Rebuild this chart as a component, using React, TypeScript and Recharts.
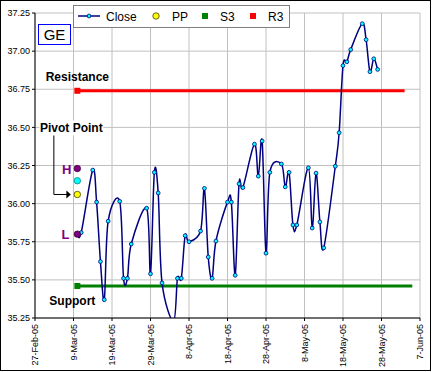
import React from 'react';
import { LineChart, Line, XAxis, YAxis, CartesianGrid, Legend } from 'recharts';

const FONT = '"Liberation Sans", Arial, sans-serif';

// daily closes
const dates = [
  '10-Mar-05', '11-Mar-05', '14-Mar-05', '15-Mar-05', '16-Mar-05', '17-Mar-05', '18-Mar-05',
  '21-Mar-05', '22-Mar-05', '23-Mar-05', '24-Mar-05', '28-Mar-05', '29-Mar-05', '30-Mar-05',
  '31-Mar-05', '1-Apr-05', '4-Apr-05', '5-Apr-05', '6-Apr-05', '7-Apr-05', '8-Apr-05',
  '11-Apr-05', '12-Apr-05', '13-Apr-05', '14-Apr-05', '15-Apr-05', '18-Apr-05', '19-Apr-05',
  '20-Apr-05', '21-Apr-05', '22-Apr-05', '25-Apr-05', '26-Apr-05', '27-Apr-05', '28-Apr-05',
  '29-Apr-05', '2-May-05', '3-May-05', '4-May-05', '5-May-05', '6-May-05', '9-May-05',
  '10-May-05', '11-May-05', '12-May-05', '13-May-05', '16-May-05', '17-May-05', '18-May-05',
  '19-May-05', '20-May-05', '23-May-05', '24-May-05', '25-May-05', '26-May-05', '27-May-05',
];
const closes = [
  35.8, 35.81, 36.22, 36.01, 35.62, 35.37, 35.885,
  36.015, 35.51, 35.51, 35.735, 35.97, 35.54, 36.205,
  36.07, 35.48, 35.23, 35.51, 35.51, 35.79, 35.75,
  35.82, 36.1, 35.65, 35.51, 35.755, 36.01, 36.01,
  35.53, 36.13, 36.105, 36.39, 36.18, 36.41, 35.675,
  36.205, 36.26, 36.11, 36.205, 35.86, 35.86, 36.235,
  35.84, 36.2, 35.88, 35.71, 36.245, 36.465, 36.905,
  36.93, 37.01, 37.18, 37.075, 36.865, 36.95, 36.88,
];

// pivot levels, all marked on the first day
const pivotDate = '10-Mar-05';
const high = 36.23;
const prevClose = 36.15;
const pivot = 36.06;
const low = 35.8;
const r3 = 36.74;
const r3End = '3-Jun-05';
const s3 = 35.46;
const s3End = '5-Jun-05';

const tickDates = [
  '27-Feb-05', '9-Mar-05', '19-Mar-05', '29-Mar-05', '8-Apr-05', '18-Apr-05',
  '28-Apr-05', '8-May-05', '18-May-05', '28-May-05', '7-Jun-05',
];
const yTicks = [35.25, 35.5, 35.75, 36, 36.25, 36.5, 36.75, 37, 37.25];

const MONTHS = ['Jan', 'Feb', 'Mar', 'Apr', 'May', 'Jun', 'Jul', 'Aug', 'Sep', 'Oct', 'Nov', 'Dec'];
const toDay = (s: string) => {
  const [d, m, y] = s.split('-');
  return (Date.UTC(2000 + Number(y), MONTHS.indexOf(m), Number(d)) - Date.UTC(2005, 1, 27)) / 86400000;
};
const tickDays = tickDates.map(toDay);
const pivotDay = toDay(pivotDate);

const rows = new Map<number, any>();
const row = (s: string) => {
  const day = toDay(s);
  if (!rows.has(day)) rows.set(day, { day });
  return rows.get(day);
};
dates.forEach((d, i) => { row(d).close = closes[i]; });
Object.assign(row(pivotDate), { high, prevClose, pivot, low, r3, s3 });
row(r3End).r3 = r3;
row(s3End).s3 = s3;
const data = [...rows.values()].sort((a, b) => a.day - b.day);

// Excel-like smoothed line (Catmull-Rom through every point)
const smooth = (context: any) => {
  let pts: number[][] = [];
  return {
    areaStart() {},
    areaEnd() {},
    lineStart() { pts = []; },
    lineEnd() {
      if (!pts.length) return;
      context.moveTo(pts[0][0], pts[0][1]);
      for (let i = 0; i < pts.length - 1; i++) {
        const p0 = pts[Math.max(i - 1, 0)];
        const p1 = pts[i];
        const p2 = pts[i + 1];
        const p3 = pts[Math.min(i + 2, pts.length - 1)];
        context.bezierCurveTo(
          p1[0] + (p2[0] - p0[0]) / 6, p1[1] + (p2[1] - p0[1]) / 6,
          p2[0] - (p3[0] - p1[0]) / 6, p2[1] - (p3[1] - p1[1]) / 6,
          p2[0], p2[1],
        );
      }
    },
    point(x: number, y: number) { pts.push([+x, +y]); },
  };
};

const empty = (p: any) => <g key={p.key} />;

const closeDot = (p: any) =>
  p.payload.close == null ? empty(p) : (
    <circle key={p.key} cx={p.cx} cy={p.cy} r={1.9} fill="#00ffff" stroke="#000080" strokeWidth={0.8} />
  );

const circleDot = (key: string, fill: string, stroke: string) => (p: any) =>
  p.payload[key] == null ? empty(p) : (
    <circle key={p.key} cx={p.cx} cy={p.cy} r={3.2} fill={fill} stroke={stroke} strokeWidth={0.8} />
  );

const letterDot = (key: string, letter: string, dx: number) => (p: any) =>
  p.payload[key] == null ? empty(p) : (
    <g key={p.key}>
      <circle cx={p.cx} cy={p.cy} r={3.2} fill="#800080" stroke="#400040" strokeWidth={0.8} />
      <text x={p.cx - dx} y={p.cy + 5} textAnchor="end" fontSize={13} fontWeight="bold" fill="#800080" fontFamily={FONT}>
        {letter}
      </text>
    </g>
  );

const pivotDotShape = (p: any) => {
  if (p.payload.pivot == null) return empty(p);
  const { cx, cy } = p;
  return (
    <g key={p.key}>
      <rect x={cx - 38} y={cy - 74} width={64} height={15} fill="#fff" />
      <text x={cx - 6} y={cy - 62} textAnchor="middle" fontSize={12} fontWeight="bold" fill="#000" fontFamily={FONT}>
        Pivot Point
      </text>
      <polyline points={`${cx - 23.5},${cy - 59} ${cx - 23.5},${cy} ${cx - 10},${cy}`} fill="none" stroke="#000" strokeWidth={1} />
      <polygon points={`${cx - 11},${cy - 4} ${cx - 6.5},${cy} ${cx - 11},${cy + 4}`} fill="#000" />
      <circle cx={cx} cy={cy} r={3.2} fill="#ffff00" stroke="#404000" strokeWidth={0.8} />
    </g>
  );
};

const levelDot = (key: string, color: string, label: string, dx: number, dy: number) => (p: any) =>
  p.payload.day !== pivotDay || p.payload[key] == null ? empty(p) : (
    <g key={p.key}>
      <rect x={p.cx - 3} y={p.cy - 3} width={6} height={6} fill={color} />
      <text x={p.cx + dx} y={p.cy + dy} textAnchor="middle" fontSize={12} fontWeight="bold" fill="#000" fontFamily={FONT}>
        {label}
      </text>
    </g>
  );

const DateTick = (props: any) => {
  const { x, y, payload } = props;
  const label = tickDates[tickDays.indexOf(payload.value)] ?? '';
  return (
    <text transform={`translate(${x},${y}) rotate(-90)`} textAnchor="end" dy="0.35em" fontSize={9} fill="#000" fontFamily={FONT}>
      {label}
    </text>
  );
};

const LegendBox = () => (
  <svg width={217} height={23} style={{ display: 'block' }}>
    <rect x={0.5} y={0.5} width={216} height={22} fill="#fff" stroke="#808080" />
    <line x1={5} x2={27} y1={11} y2={11} stroke="#000080" strokeWidth={1.5} />
    <circle cx={16} cy={11} r={1.9} fill="#00ffff" stroke="#000080" strokeWidth={0.8} />
    <text x={33} y={15.5} fontSize={12} fill="#000" fontFamily={FONT}>Close</text>
    <circle cx={83} cy={11} r={3.2} fill="#ffff00" stroke="#404000" strokeWidth={0.8} />
    <text x={99} y={15.5} fontSize={12} fill="#000" fontFamily={FONT}>PP</text>
    <rect x={129} y={8} width={6} height={6} fill="#008000" />
    <text x={147} y={15.5} fontSize={12} fill="#000" fontFamily={FONT}>S3</text>
    <rect x={177} y={8} width={6} height={6} fill="#ff0000" />
    <text x={195} y={15.5} fontSize={12} fill="#000" fontFamily={FONT}>R3</text>
  </svg>
);

const App = () => (
  <div style={{ position: 'absolute', left: 0, top: 0, width: 432, height: 372, background: '#fff', fontFamily: FONT }}>
    <LineChart width={432} height={372} data={data} margin={{ top: 13, right: 12, left: 0, bottom: 0 }}>
      <CartesianGrid stroke="#c0c0c0" />
      <XAxis
        dataKey="day"
        type="number"
        domain={[0, 100]}
        ticks={tickDays}
        interval={0}
        height={54}
        tickSize={3}
        tickMargin={3}
        tick={<DateTick />}
        axisLine={{ stroke: '#000' }}
        tickLine={{ stroke: '#000' }}
      />
      <YAxis
        type="number"
        domain={[35.25, 37.25]}
        ticks={yTicks}
        interval={0}
        width={35}
        tickSize={3}
        allowDataOverflow
        tickFormatter={(v: number) => v.toFixed(2)}
        tick={{ fontSize: 9, fill: '#000', fontFamily: FONT }}
        axisLine={{ stroke: '#000' }}
        tickLine={{ stroke: '#000' }}
      />
      <Legend verticalAlign="middle" align="center" layout="horizontal" content={<LegendBox />} wrapperStyle={{ left: 73, top: 5, width: 217, height: 23 }} />
      <Line dataKey="r3" stroke="#ff0000" strokeWidth={3} connectNulls dot={levelDot('r3', '#ff0000', 'Resistance', 0, -10)} activeDot={false} isAnimationActive={false} />
      <Line dataKey="s3" stroke="#008000" strokeWidth={3} connectNulls dot={levelDot('s3', '#008000', 'Support', -5, 19)} activeDot={false} isAnimationActive={false} />
      <Line dataKey="close" type={smooth as any} stroke="#000080" strokeWidth={1.5} dot={closeDot} activeDot={false} isAnimationActive={false} />
      <Line dataKey="high" stroke="none" dot={letterDot('high', 'H', 6)} activeDot={false} isAnimationActive={false} />
      <Line dataKey="low" stroke="none" dot={letterDot('low', 'L', 8)} activeDot={false} isAnimationActive={false} />
      <Line dataKey="prevClose" stroke="none" dot={circleDot('prevClose', '#00ffff', '#008080')} activeDot={false} isAnimationActive={false} />
      <Line dataKey="pivot" stroke="none" dot={pivotDotShape} activeDot={false} isAnimationActive={false} />
    </LineChart>
    <div
      style={{
        position: 'absolute', left: 38, top: 24, width: 33, height: 21, boxSizing: 'border-box',
        border: '1px solid #0000ff', background: '#fff', fontSize: 15, lineHeight: '19px', textAlign: 'center', color: '#000',
      }}
    >
      GE
    </div>
    <div style={{ position: 'absolute', left: 0, top: 0, width: 431, height: 371, boxSizing: 'border-box', border: '1px solid #000', pointerEvents: 'none' }} />
  </div>
);

export default App;
